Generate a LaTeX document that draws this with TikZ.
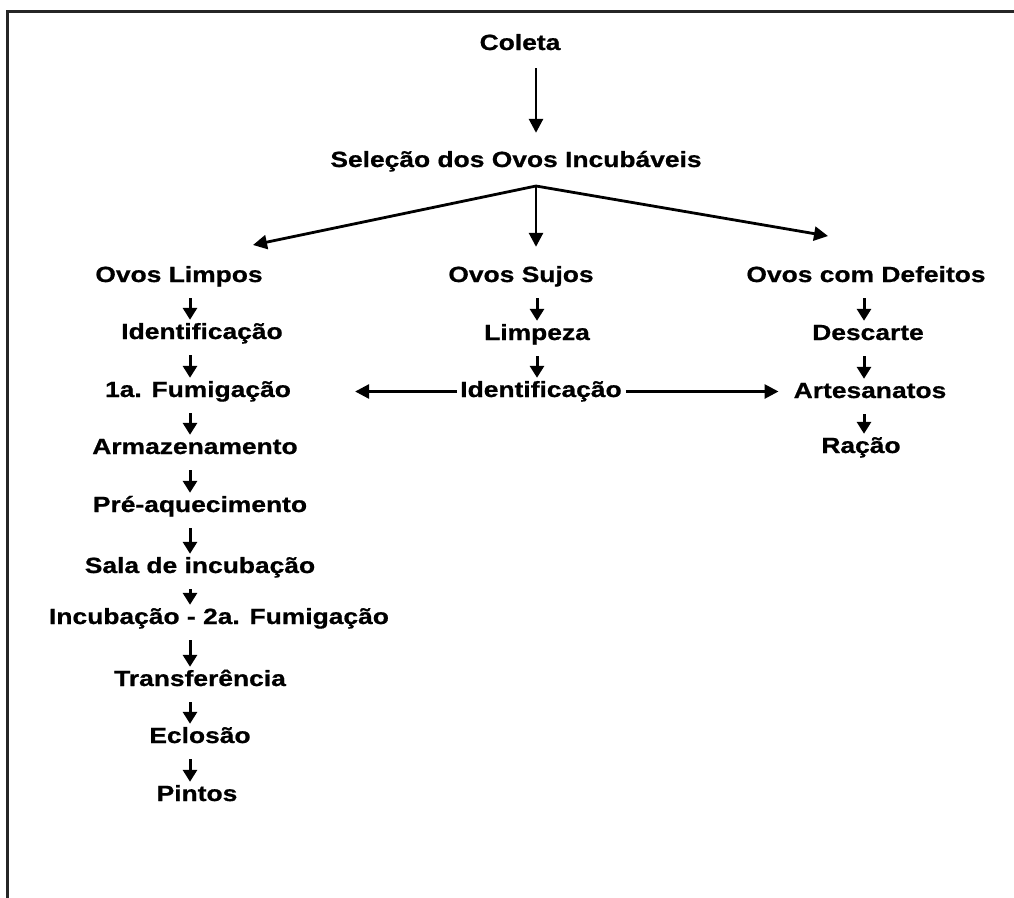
\documentclass[tikz,border=0pt]{standalone}
\usepackage{fontspec}
\newfontfamily\lblfont{Liberation Sans}[FakeStretch=1.2,FakeBold=0.8]
\usetikzlibrary{arrows.meta}

\begin{document}
\begin{tikzpicture}[x=1pt,y=-1pt,
  lbl/.style={anchor=base,inner sep=0pt,text height=16pt,text depth=5pt,
    font=\lblfont\bfseries\fontsize{22}{26}\selectfont},
  barr/.style={line width=2.8pt,-{Triangle[length=14pt,width=14pt]}},
  sarr/.style={line width=3pt,-{Triangle[length=12pt,width=14pt]},
    shorten <=11pt,shorten >=3pt}]
 \useasboundingbox (0,0) rectangle (1014,897);
 \draw[line width=2.5pt,black!85] (7.5,900) -- (7.5,11.5) -- (1020,11.5);
 % column axes
 \coordinate (lax) at (190,0);
 \coordinate (max) at (537,0);
 \coordinate (rax) at (864,0);
 \coordinate (fork) at (536,186);
 \coordinate (tipl) at (253,245);
 \coordinate (tipr) at (828,236);
 % top
 \node[lbl] (col) at (520,50) {Coleta};
 \node[lbl] (sel) at (516,167) {Seleção dos Ovos Incubáveis};
 % left column
 \node[lbl] (ol)   at (179,282) {Ovos Limpos};
 \node[lbl] (id1)  at (202,339) {Identificação};
 \node[lbl] (fum)  at (198,397) {1a. Fumigação};
 \node[lbl] (arm)  at (195,454) {Armazenamento};
 \node[lbl] (pre)  at (200,512) {Pré-aquecimento};
 \node[lbl] (sala) at (200,573) {Sala de incubação};
 \node[lbl] (inc)  at (219,624) {Incubação - 2a. Fumigação};
 \node[lbl] (tra)  at (200,686) {Transferência};
 \node[lbl] (ecl)  at (200,743) {Eclosão};
 \node[lbl] (pin)  at (197,801) {Pintos};
 % middle column
 \node[lbl] (os)  at (521,282) {Ovos Sujos};
 \node[lbl] (lim) at (537,340) {Limpeza};
 \node[lbl] (id2) at (541,397) {Identificação};
 % right column
 \node[lbl] (ocd) at (866,282) {Ovos com Defeitos};
 \node[lbl] (des) at (868,340) {Descarte};
 \node[lbl] (art) at (870,398) {Artesanatos};
 \node[lbl] (rac) at (861,453) {Ração};
 % arrows
 \draw[barr,shorten <=13pt,shorten >=18pt] (col.south -| fork) -- (sel.north -| fork);
 \draw[barr] (fork) -- (tipl);
 \draw[barr,shorten >=19pt] (fork) -- (os.north -| fork);
 \draw[barr] (fork) -- (tipr);
 \foreach \a/\b in {ol/id1,id1/fum,fum/arm,arm/pre,pre/sala,sala/inc,inc/tra,tra/ecl,ecl/pin}
   \draw[sarr] (\a.south -| lax) -- (\b.north -| lax);
 \foreach \a/\b in {os/lim,lim/id2}
   \draw[sarr] (\a.south -| max) -- (\b.north -| max);
 \foreach \a/\b in {ocd/des,des/art,art/rac}
   \draw[sarr] (\a.south -| rax) -- (\b.north -| rax);
 \draw[barr,shorten <=3pt,shorten >=64pt] (id2.west) -- (id2.west -| fum.east);
 \draw[barr,shorten <=4pt,shorten >=15pt] (id2.east) -- (id2.east -| art.west);
\end{tikzpicture}
\end{document}
